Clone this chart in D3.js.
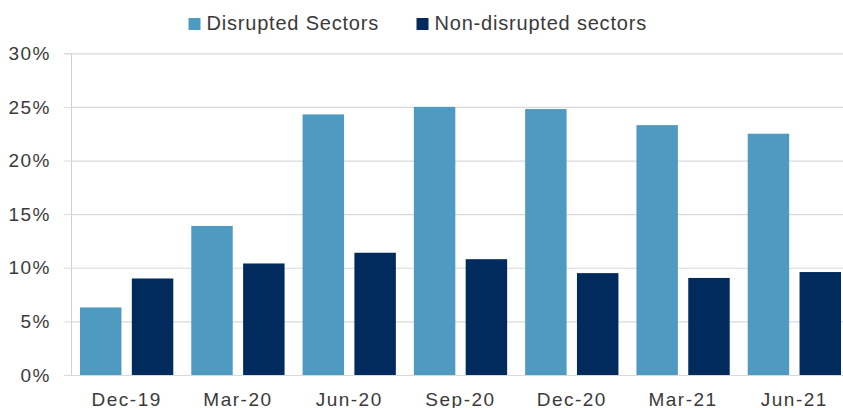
<!DOCTYPE html>
<html>
<head>
<meta charset="utf-8">
<script src="https://cdn.jsdelivr.net/npm/d3@7"></script>
<style>
    html, body { margin: 0; padding: 0; background: #fff; }
    svg { display: block; }
    text { font-family: "Liberation Sans", Arial, sans-serif; fill: #3a3a3a; }
</style>
</head>
<body>
<svg id="chart" width="843" height="408"></svg>
<script>
// Chart data
const categories = ['Dec-19', 'Mar-20', 'Jun-20', 'Sep-20', 'Dec-20', 'Mar-21', 'Jun-21'];
const seriesNames = ['Disrupted Sectors', 'Non-disrupted sectors'];
const disrupted = [6.3, 13.9, 24.3, 25.0, 24.8, 23.3, 22.5];
const nonDisrupted = [9.0, 10.4, 11.4, 10.8, 9.5, 9.05, 9.6];
const yTicks = [0, 5, 10, 15, 20, 25, 30];

const COLORS = ['#4f9ac1', '#002b5c'];

const svg = d3.select('#chart');

// Scales
const x0 = d3.scaleBand()
    .domain(categories)
    .range([71, 850])
    .padding(0);

const x1 = d3.scaleBand()
    .domain(seriesNames)
    .range([9, x0.bandwidth() - 9])
    .paddingInner(0.2)
    .paddingOuter(0);

const y = d3.scaleLinear()
    .domain([0, 30])
    .range([375, 53.3]);

// Gridlines + y tick labels
const yAxis = svg.append('g')
    .attr('transform', 'translate(71,0)')
    .call(d3.axisLeft(y)
        .tickValues(yTicks)
        .tickSize(7)
        .tickPadding(13)
        .tickFormat(d => d + '%'));

yAxis.select('.domain').attr('stroke', '#d0d0d0');
yAxis.selectAll('.tick line').attr('stroke', '#d9d9d9');
yAxis.selectAll('.tick text')
    .attr('font-size', 19)
    .attr('letter-spacing', 1.5)
    .attr('fill', '#3a3a3a');

svg.append('g')
    .selectAll('line')
    .data(yTicks)
    .join('line')
    .attr('x1', 71)
    .attr('x2', 843)
    .attr('y1', d => y(d) + 0.5)
    .attr('y2', d => y(d) + 0.5)
    .attr('stroke', '#d9d9d9')
    .attr('stroke-width', 1.2);

// Bars
const rows = categories.map((c, i) => ({
    cat: c,
    values: [
        { key: seriesNames[0], v: disrupted[i] },
        { key: seriesNames[1], v: nonDisrupted[i] }
    ]
}));

svg.append('g')
    .selectAll('g')
    .data(rows)
    .join('g')
    .attr('transform', d => `translate(${x0(d.cat)},0)`)
    .selectAll('rect')
    .data(d => d.values)
    .join('rect')
    .attr('x', d => x1(d.key))
    .attr('width', x1.bandwidth())
    .attr('y', d => y(d.v))
    .attr('height', d => y(0) - y(d.v))
    .attr('fill', (d, i) => COLORS[i]);

// Axis line at the bottom (drawn after bars)
svg.append('line')
    .attr('x1', 64).attr('x2', 843)
    .attr('y1', y(0) + 0.5).attr('y2', y(0) + 0.5)
    .attr('stroke', '#d9d9d9')
    .attr('stroke-width', 1.2);

// X labels
svg.append('g')
    .selectAll('text')
    .data(categories)
    .join('text')
    .attr('x', d => x0(d) + x0.bandwidth() / 2)
    .attr('y', 405.5)
    .attr('text-anchor', 'middle')
    .attr('font-size', 19)
    .attr('letter-spacing', 1.5)
    .text(d => d);

// Legend
const legendX = [188.5, 416.5];
const legend = svg.append('g')
    .selectAll('g')
    .data(seriesNames)
    .join('g')
    .attr('transform', (d, i) => `translate(${legendX[i]},0)`);

legend.append('rect')
    .attr('x', 0).attr('y', 18)
    .attr('width', 12).attr('height', 12)
    .attr('fill', (d, i) => COLORS[i]);

legend.append('text')
    .attr('x', 18)
    .attr('y', 29.7)
    .attr('font-size', 20)
    .attr('letter-spacing', 0.8)
    .text(d => d);
</script>
</body>
</html>
